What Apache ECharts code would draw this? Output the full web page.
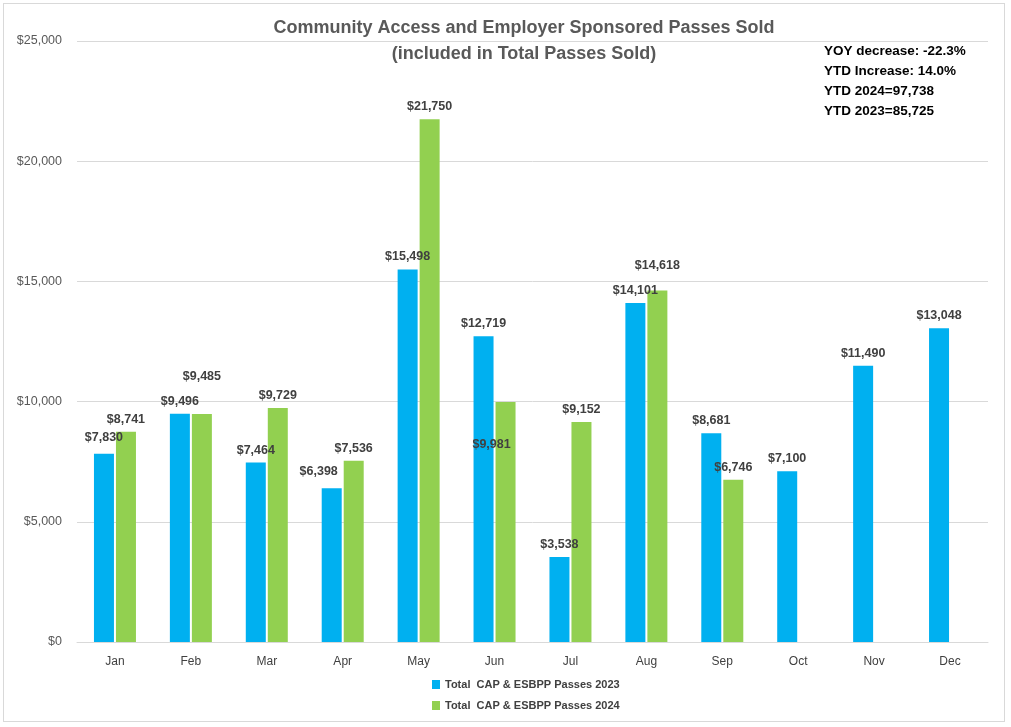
<!DOCTYPE html>
<html>
<head>
<meta charset="utf-8">
<script src="https://cdn.jsdelivr.net/npm/echarts@6/dist/echarts.min.js"></script>
<style>
  html, body { margin: 0; padding: 0; background: #fff; }
  #frame { position: absolute; left: 3px; top: 3px; width: 1002px; height: 719px; border: 1px solid #d9d9d9; box-sizing: border-box; }
  #chart { position: absolute; left: 0; top: 0; width: 1011px; height: 727px; }
</style>
</head>
<body>
<div id="frame"></div>
<div id="chart"></div>
<script>
const months = ["Jan", "Feb", "Mar", "Apr", "May", "Jun", "Jul", "Aug", "Sep", "Oct", "Nov", "Dec"];
const passes2023 = [7830, 9496, 7464, 6398, 15498, 12719, 3538, 14101, 8681, 7100, 11490, 13048];
const passes2024 = [8741, 9485, 9729, 7536, 21750, 9981, 9152, 14618, 6746, null, null, null];
const yTicks = [0, 5000, 10000, 15000, 20000, 25000];
const notes = ["YOY decrease: -22.3%", "YTD Increase: 14.0%", "YTD 2024=97,738", "YTD 2023=85,725"];

// labels that were dragged by hand in the original, [dx, dy] in px
const shift2023 = { 0: [0, -4], 3: [-13, -4] };
const shift2024 = { 1: [0, -25], 5: [-14, 55], 7: [0, -13] };

const fmt = (v) => "$" + v.toLocaleString("en-US");
const font = "'Liberation Sans', Arial, sans-serif";

function withLabels(vals, shifts) {
  return vals.map((v, i) =>
    shifts[i] ? { value: v, label: { offset: shifts[i] } } : v
  );
}

const c = echarts.init(document.getElementById("chart"), null, { renderer: "canvas" });

const baseLabel = {
  show: true,
  position: "top",
  distance: 6,
  color: "#404040",
  fontFamily: font,
  fontSize: 12.5,
  fontWeight: "bold",
  formatter: (p) => (p.value == null ? "" : fmt(p.value)),
};

c.setOption({
  backgroundColor: "transparent",
  animation: false,
  textStyle: { fontFamily: font },
  title: [
    {
      text: "Community Access and Employer Sponsored Passes Sold\n(included in Total Passes Sold)",
      left: 519,
      top: 10,
      textAlign: "center",
      textStyle: { color: "#595959", fontSize: 18, fontWeight: "bold", lineHeight: 26, fontFamily: font },
    },
    {
      text: notes.join("\n"),
      left: 819,
      top: 36,
      textStyle: { color: "#000", fontSize: 13.5, fontWeight: "bold", lineHeight: 20, fontFamily: font },
    },
  ],
  grid: { left: 77, right: 23, top: 41, bottom: 85 },
  legend: {
    orient: "vertical",
    left: 427,
    top: 674,
    icon: "rect",
    itemWidth: 8,
    itemHeight: 9,
    itemGap: 10,
    textStyle: { color: "#404040", fontSize: 11, fontWeight: "bold", fontFamily: font },
    data: ["Total  CAP & ESBPP Passes 2023", "Total  CAP & ESBPP Passes 2024"],
  },
  xAxis: {
    type: "category",
    data: months,
    axisLine: { lineStyle: { color: "#d9d9d9" } },
    axisTick: { show: false },
    axisLabel: { color: "#404040", fontSize: 12, margin: 14 },
  },
  yAxis: {
    type: "value",
    min: yTicks[0],
    max: yTicks[yTicks.length - 1],
    interval: yTicks[1] - yTicks[0],
    axisLine: { show: false },
    axisTick: { show: false },
    splitLine: { lineStyle: { color: "#d9d9d9" } },
    axisLabel: { color: "#595959", fontSize: 12.5, margin: 15, formatter: (v) => fmt(v) },
  },
  series: [
    {
      name: "Total  CAP & ESBPP Passes 2023",
      type: "bar",
      data: withLabels(passes2023, shift2023),
      barWidth: 20,
      barGap: "10%",
      itemStyle: { color: "#00b0f0" },
      label: baseLabel,
    },
    {
      name: "Total  CAP & ESBPP Passes 2024",
      type: "bar",
      data: withLabels(passes2024, shift2024),
      barWidth: 20,
      itemStyle: { color: "#92d050" },
      label: baseLabel,
    },
  ],
});
</script>
</body>
</html>
